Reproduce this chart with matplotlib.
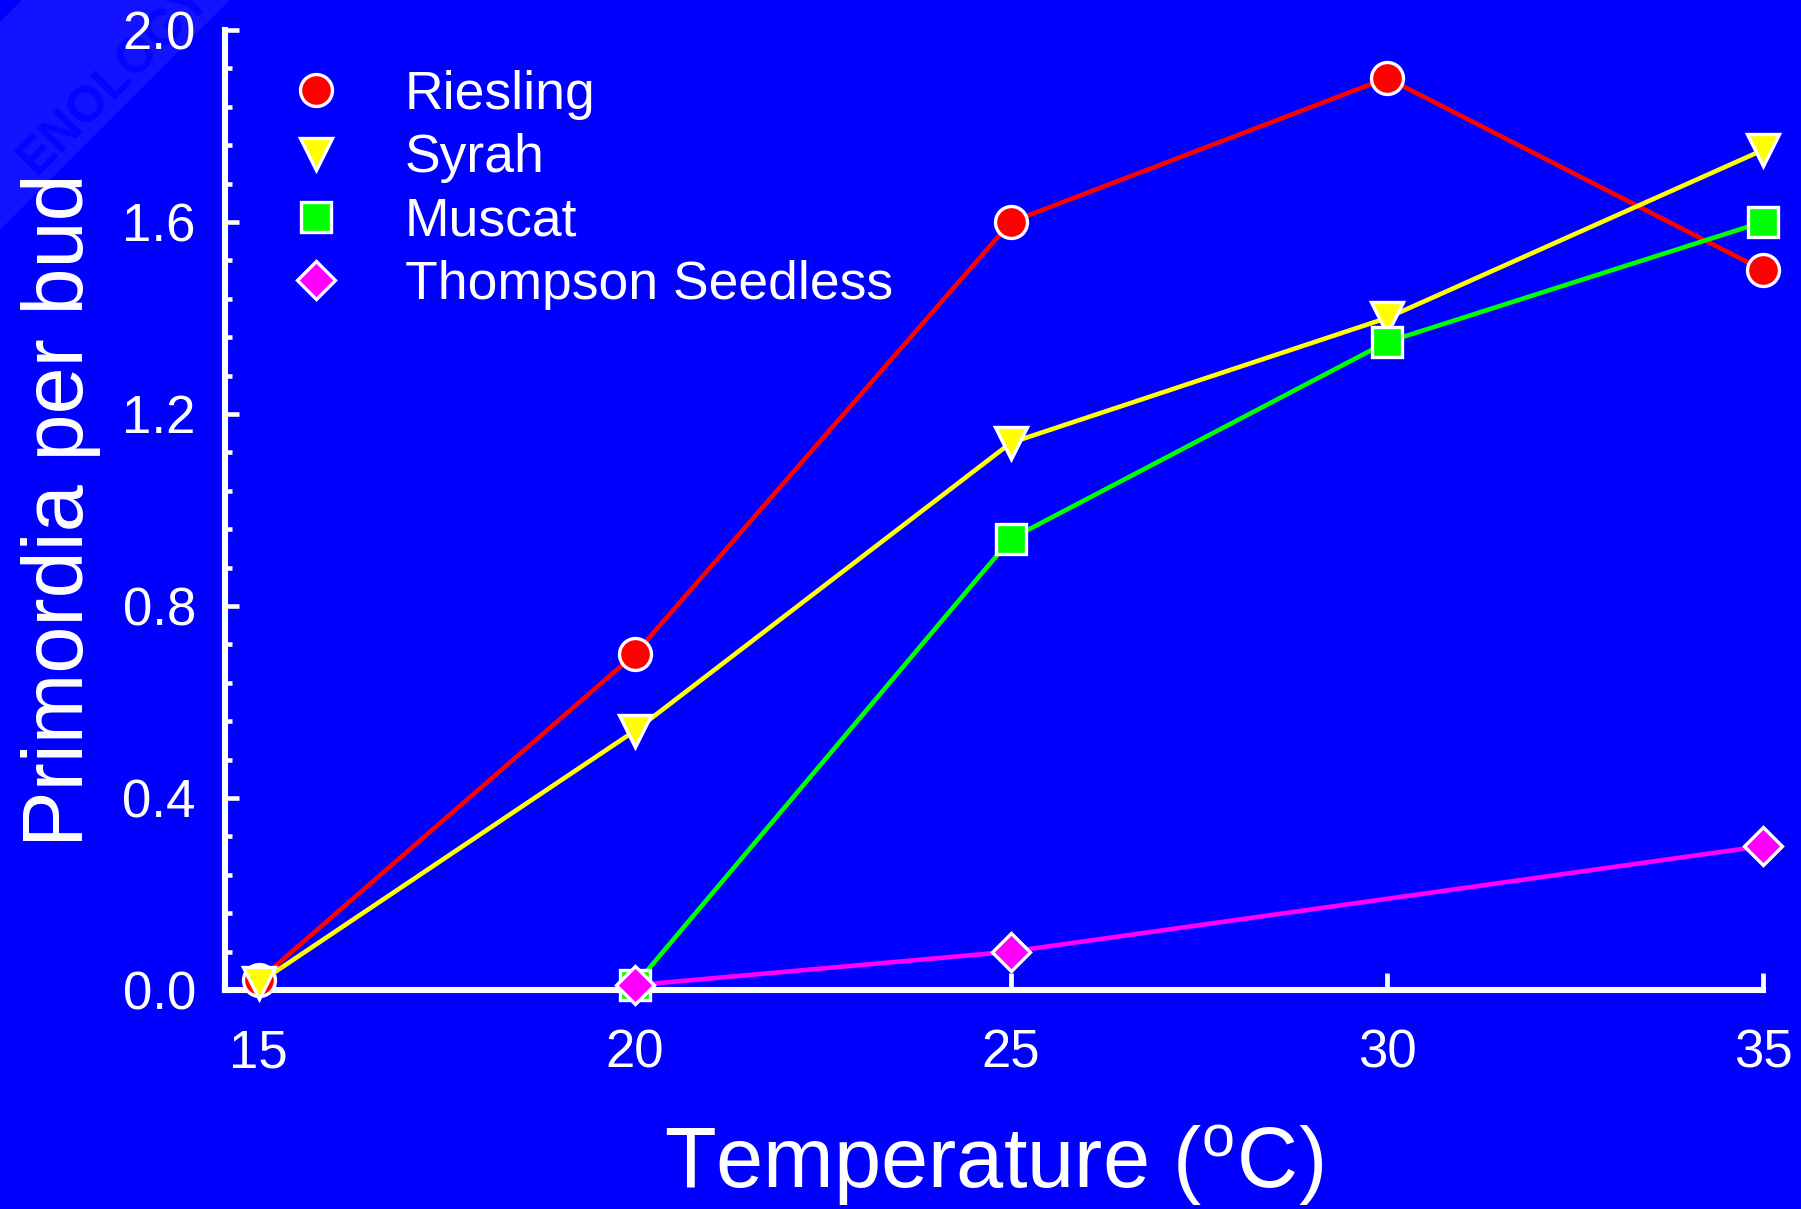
import matplotlib
matplotlib.use('Agg')
import matplotlib.pyplot as plt
from matplotlib.patches import Polygon

plt.rcParams['font.family'] = ['Liberation Sans', 'DejaVu Sans']
plt.rcParams['mathtext.fontset'] = 'custom'
plt.rcParams['mathtext.rm'] = 'Liberation Sans'

# data
temps = [15, 20, 25, 30, 35]
riesling = [0.02, 0.70, 1.60, 1.90, 1.50]
syrah = [0.015, 0.54, 1.14, 1.40, 1.75]
muscat_t = [20, 25, 30, 35]
muscat = [0.01, 0.94, 1.35, 1.60]
thompson_t = [20, 25, 35]
thompson = [0.01, 0.08, 0.30]

names = ["Riesling", "Syrah", "Muscat", "Thompson Seedless"]
colors = ["#FF0000", "#FFFF00", "#00FF00", "#FF00FF"]
markers = ["o", "v", "s", "D"]
msizes = [23, 22.5, 21, 19]

bg = "#0000FF"
W, H = 1801, 1209

fig = plt.figure(figsize=(W / 100, H / 100), dpi=100, facecolor=bg)

# faint watermark band in the corner
band = [(22, 0), (230, 0), (0, 230), (0, 22)]
fig.patches.append(Polygon([(x / W, 1 - y / H) for x, y in band], closed=True,
                           transform=fig.transFigure, facecolor="#1313FF",
                           edgecolor="none", zorder=-3))
fig.text(115 / W, 1 - 78 / H, "ENOLOGY", rotation=45, color="#0505FF",
         fontsize=36, fontweight="bold", ha="center", va="center", zorder=-2)

ax = fig.add_axes([225 / W, 1 - 990 / H, (1763 - 225) / W, 960 / H])
ax.set_facecolor("none")

series = [(temps, riesling), (temps, syrah), (muscat_t, muscat), (thompson_t, thompson)]
for (xs, ys), c, m, ms in zip(series, colors, markers, msizes):
    ax.plot(xs, ys, color=c, lw=3.3, marker=m, markersize=ms, markerfacecolor=c,
            markeredgecolor="white", markeredgewidth=2.4, clip_on=False, zorder=3)

handles = [ax.plot([], [], ls="none", marker=m, markersize=ms, markerfacecolor=c,
                   markeredgecolor="white", markeredgewidth=2.4)[0]
           for c, m, ms in zip(colors, markers, msizes)]

ax.set_xlim(14.55, 35)
ax.set_ylim(0, 2.0)
ax.set_xticks([15, 20, 25, 30, 35])
ax.set_yticks([0.0, 0.4, 0.8, 1.2, 1.6, 2.0])
ax.set_yticks([i * 0.08 for i in range(26)], minor=True)
ax.set_yticklabels(["0.0", "0.4", "0.8", "1.2", "1.6", "2.0"])

for s in ["top", "right"]:
    ax.spines[s].set_visible(False)
for s in ["left", "bottom"]:
    ax.spines[s].set_color("white")
    ax.spines[s].set_linewidth(4.4)
    ax.spines[s].set_capstyle("projecting")

ax.tick_params(axis="y", which="major", direction="in", length=10, width=3.3,
               colors="white", labelsize=38, pad=21)
ax.tick_params(axis="y", which="minor", direction="in", length=5, width=3.3,
               colors="white")
ax.tick_params(axis="x", which="major", direction="in", length=12, width=3.4,
               colors="white", labelsize=38, pad=28)

ax.set_xlabel(r"Temperature ($\mathregular{^o}$C)", fontsize=61, color="white",
              va="baseline")
ax.xaxis.set_label_coords(0.5, -0.206)
ax.set_ylabel("Primordia per bud", fontsize=61, color="white", va="center")
ax.yaxis.set_label_coords(-0.1065, 0.5)

leg = ax.legend(handles, names, loc="upper left", frameon=False, fontsize=38.5,
                handlelength=1.0, handletextpad=1.17, labelspacing=0.25,
                borderpad=0, borderaxespad=0,
                bbox_to_anchor=(289 / W, 1 - 70 / H),
                bbox_transform=fig.transFigure)
for t in leg.get_texts():
    t.set_color("white")

fig.savefig("out.png", dpi=100, facecolor=bg)
